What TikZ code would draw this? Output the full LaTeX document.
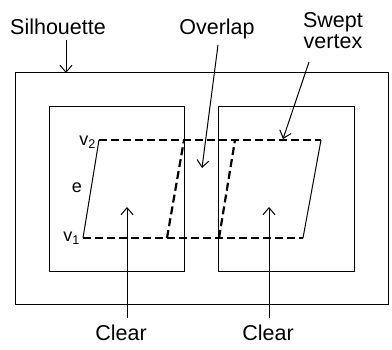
\documentclass[tikz,border=0pt]{standalone}
\usepackage{fontspec}
\setmainfont{Liberation Sans}
\usetikzlibrary{arrows.meta}

\begin{document}
\begin{tikzpicture}[
  x=1pt, y=-1pt,
  frame/.style={draw=black, line width=1pt},
  sweep/.style={draw=black, line width=2.2pt, dash pattern=on 8pt off 4pt},
  edge/.style={draw=black, line width=1pt},
  pointer/.style={-{Straight Barb[length=7pt, width=12pt]}, line width=1pt},
  lbl/.style={inner sep=0pt, anchor=base, font=\fontsize{21.5}{21}\selectfont},
  vlbl/.style={inner sep=0pt, font=\fontsize{18}{20}\selectfont}
]
\useasboundingbox (0,0) rectangle (392,350);
% boxes
\draw[frame] (15,73) rectangle (388,305);
\draw[frame] (49,107) rectangle (184,272);
\draw[frame] (218,107) rectangle (354,272);
% swept edge corners
\coordinate (v1) at (83,238);
\coordinate (v2) at (99,140);
\coordinate (a1) at (167,238);
\coordinate (a2) at (184,140);
\coordinate (b1) at (219,238);
\coordinate (b2) at (235,140);
\coordinate (c1) at (303,238);
\coordinate (c2) at (321,140);
\draw[sweep] (v2) -- (c2);
\draw[sweep] (v1) -- (c1);
\draw[sweep] (a1) -- (a2);
\draw[sweep] (b1) -- (b2);
\draw[edge] (v1) -- (v2);
\draw[edge] (c1) -- (c2);
% labels
\node[vlbl, anchor=east] (v2lbl) at (96,142) {v\textsubscript{2}};
\node[vlbl] (elbl) at (77,188) {e};
\node[vlbl, anchor=east] (v1lbl) at (80,238) {v\textsubscript{1}};
\node[lbl] (sil) at (58,35) {Silhouette};
\node[lbl] (ovl) at (217,35) {Overlap};
\node[lbl, align=center] (swv) at (333,49) {Swept\\vertex};
\node[lbl] (clrl) at (121,341) {Clear};
\node[lbl] (clrr) at (268,341) {Clear};
% pointers
\coordinate (silend) at (66,73);
\coordinate (ovlend) at (202,168);
\coordinate (swvend) at (283,139);
\coordinate (clrlend) at (127,207);
\coordinate (clrrend) at (269,207);
\draw[pointer] (66,40) -- (silend);
\draw[pointer] (218,45) -- (ovlend);
\draw[pointer] (309,62) -- (swvend);
\draw[pointer] (127,318) -- (clrlend);
\draw[pointer] (269,318) -- (clrrend);
\end{tikzpicture}
\end{document}
